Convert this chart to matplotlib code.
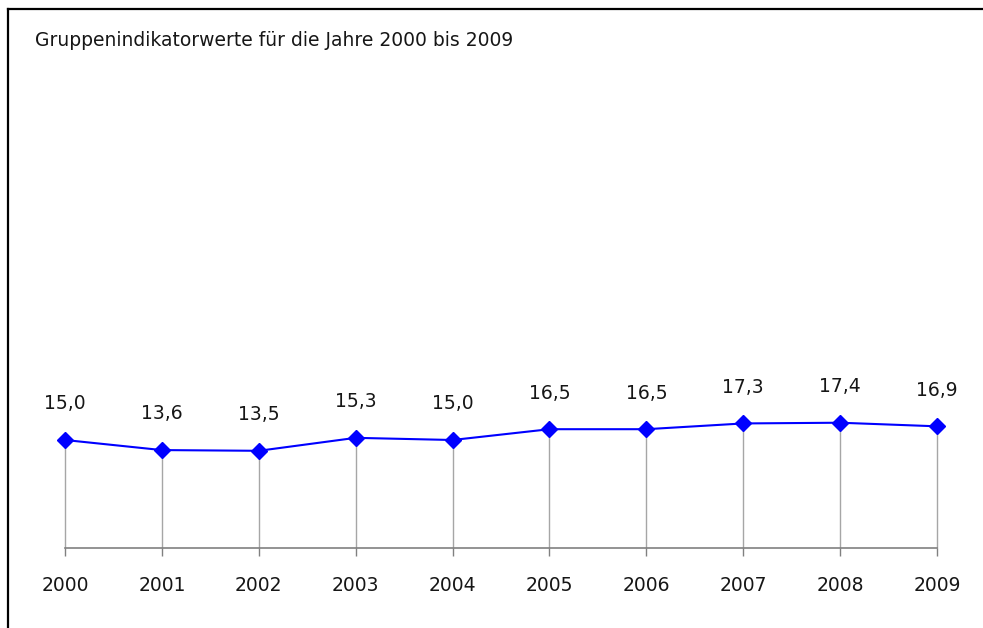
import matplotlib
matplotlib.use('Agg')
import matplotlib.pyplot as plt
from matplotlib.lines import Line2D

# Daten
years = [2000, 2001, 2002, 2003, 2004, 2005, 2006, 2007, 2008, 2009]
values = [15.0, 13.6, 13.5, 15.3, 15.0, 16.5, 16.5, 17.3, 17.4, 16.9]
value_labels = ['15,0', '13,6', '13,5', '15,3', '15,0', '16,5', '16,5', '17,3', '17,4', '16,9']
title = 'Gruppenindikatorwerte für die Jahre 2000 bis 2009'

plt.rcParams['font.family'] = ['DejaVu Sans']

W, H = 983, 628
fig = plt.figure(figsize=(W / 100, H / 100), dpi=100)

# Rahmen (oben und links)
fig.add_artist(Line2D([8 / W, 1], [1 - 9 / H, 1 - 9 / H], color='black', lw=1.6))
fig.add_artist(Line2D([8 / W, 8 / W], [0, 1 - 9 / H], color='black', lw=1.6))

fig.text(35 / W, 1 - 41 / H, title, fontsize=13.5, color='#161616', va='center', ha='left')

ax = fig.add_axes([65 / W, 80 / H, (937 - 65) / W, 432 / H])
ax.set_xlim(years[0], years[-1])
ax.set_ylim(0, 60)

# Senkrechte Linien zur Achse
ax.vlines(years, 0, values, color='#a6a6a6', lw=1.0, zorder=1, clip_on=False)
ax.plot(years, values, color='#0000ff', lw=1.5, marker='D', ms=8.5,
        markerfacecolor='#0000ff', markeredgecolor='#0000ff', zorder=3, clip_on=False)

for x, y, lab in zip(years, values, value_labels):
    ax.annotate(lab, (x, y), xytext=(0, 26), textcoords='offset points',
                ha='center', va='center', fontsize=13.5, color='#161616')

for s in ['top', 'right', 'left']:
    ax.spines[s].set_visible(False)
ax.spines['bottom'].set_color('#808080')
ax.spines['bottom'].set_linewidth(1.2)
ax.set_yticks([])
ax.set_xticks(years)
ax.set_xticklabels([str(y) for y in years])
ax.tick_params(axis='x', direction='out', length=6, width=1, color='#808080',
               pad=14.5, labelsize=13.5, labelcolor='#161616')
ax.patch.set_visible(False)

fig.savefig('out.png', dpi=100)
